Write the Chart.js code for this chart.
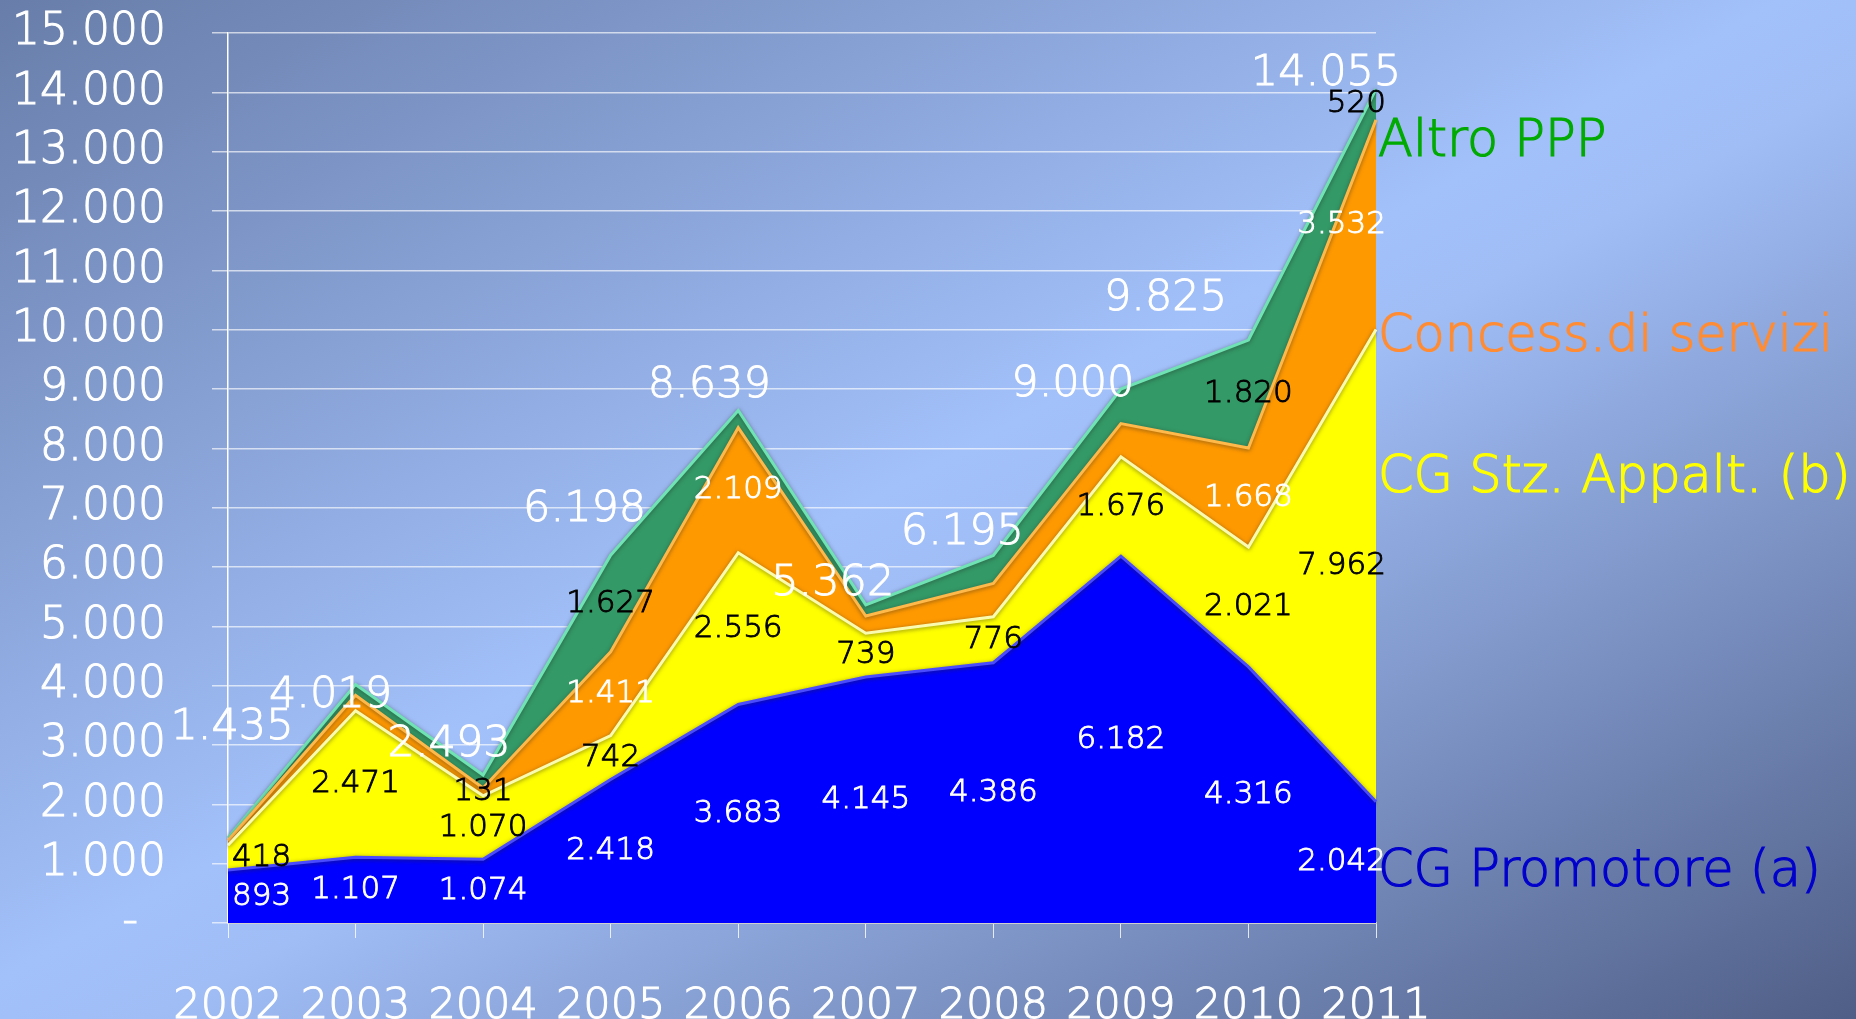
<!DOCTYPE html>
<html>
<head>
<meta charset="utf-8">
<title>PPP 2002-2011</title>
<script src="https://cdn.jsdelivr.net/npm/chart.js@4.4.1/dist/chart.umd.min.js"></script>
<style>
html, body { margin: 0; padding: 0; }
body {
    width: 1856px; height: 1019px; overflow: hidden;
    background: linear-gradient(to bottom right, #687da9 0%, #a2c0fa 48%, #a0bdf6 54%, #4f5e86 100%);
}
#grafico { display: block; }
</style>
</head>
<body>
<canvas id="grafico" width="1856" height="1019"></canvas>
<script>
// dati
const anni = ['2002', '2003', '2004', '2005', '2006', '2007', '2008', '2009', '2010', '2011'];
const cgPromotore = [893, 1107, 1074, 2418, 3683, 4145, 4386, 6182, 4316, 2042];
const cgStzAppalt = [418, 2471, 1070, 742, 2556, 739, 776, 1676, 2021, 7962];
const concessServizi = [80, 260, 131, 1411, 2109, 290, 560, 560, 1668, 3532];
const altroPPP = [44, 181, 218, 1627, 291, 188, 473, 582, 1820, 520];
const totali = [1435, 4019, 2493, 6198, 8639, 5362, 6195, 9000, 9825, 14055];

// spostamenti delle etichette dei totali rispetto al punto (px)
const spostTotali = [[4, -110], [-25, 11], [-34, -30], [-26, -45], [-29, -25], [-33, -21], [-31, -23], [-48, -4], [-83, -41], [-50, -15]];
// quota (valore asse y) dei nomi delle serie a destra
const posNomi = [855, 7495, 9860, 13145];

const FONT = '"DejaVu Sans", Verdana, sans-serif';
const ctx = document.getElementById('grafico').getContext('2d');
let myChart;

function fmt(v) {
    return String(v).replace(/\B(?=(\d{3})+(?!\d))/g, '.');
}

function scrivi(c, testo, x, y, colore) {
    c.fillStyle = colore;
    c.strokeStyle = colore;
    c.fillText(testo, x, y);
    c.strokeText(testo, x, y);
}

const serie = [
    { label: 'CG Promotore (a)', data: cgPromotore, fill: 'origin', backgroundColor: '#0000ff', borderColor: '#4a4aff', coloreNome: '#0000cc', coloreEtichetta: '#ffffff', nascosti: [] },
    { label: 'CG Stz. Appalt. (b)', data: cgStzAppalt, fill: '-1', backgroundColor: '#ffff00', borderColor: '#fbfbb0', coloreNome: '#ffff00', coloreEtichetta: '#000000', nascosti: [] },
    { label: 'Concess.di servizi', data: concessServizi, fill: '-1', backgroundColor: '#ff9900', borderColor: '#ffb84a', coloreNome: '#ff8c33', coloreEtichetta: '#ffffff', nascosti: [0, 1, 5, 6, 7] },
    { label: 'Altro PPP', data: altroPPP, fill: '-1', backgroundColor: '#339966', borderColor: '#6fe3b3', coloreNome: '#00aa00', coloreEtichetta: '#000000', nascosti: [0, 1, 2, 4, 5, 6, 7] }
];

// ombra leggera sui bordi delle aree (effetto rilievo)
const rilievo = {
    id: 'rilievo',
    beforeDatasetDraw(chart) {
        const c = chart.ctx;
        c.save();
        c.shadowColor = 'rgba(40,40,40,0.55)';
        c.shadowBlur = 4;
        c.shadowOffsetY = 1;
    },
    afterDatasetDraw(chart) {
        chart.ctx.restore();
    }
};

const etichette = {
    id: 'etichette',
    afterDatasetsDraw(chart) {
        const c = chart.ctx;
        const xS = chart.scales.x, yS = chart.scales.y;
        const n = anni.length;
        c.save();
        c.textBaseline = 'middle';
        c.lineWidth = 0.9;
        c.font = '200 31px ' + FONT;
        serie.forEach((s, i) => {
            const meta = chart.getDatasetMeta(i);
            const sotto = i === 0 ? null : chart.getDatasetMeta(i - 1);
            s.data.forEach((v, j) => {
                if (s.nascosti.includes(j)) return;
                const p = meta.data[j];
                const y0 = sotto ? sotto.data[j].y : yS.getPixelForValue(0);
                let x = p.x;
                c.textAlign = 'center';
                if (j === 0) { c.textAlign = 'left'; x += 4; }
                if (j === n - 1) { c.textAlign = 'right'; x += 10; }
                scrivi(c, fmt(v), x, (p.y + y0) / 2, v < 300 ? '#000000' : s.coloreEtichetta);
            });
        });
        // totali
        c.font = '200 43px ' + FONT;
        c.textAlign = 'center';
        totali.forEach((t, j) => {
            scrivi(c, fmt(t), xS.getPixelForValue(j) + spostTotali[j][0], yS.getPixelForValue(t) + spostTotali[j][1], '#ffffff');
        });
        // nomi delle serie
        c.font = '200 51px ' + FONT;
        c.lineWidth = 1.2;
        c.textAlign = 'left';
        serie.forEach((s, i) => {
            scrivi(c, s.label, chart.chartArea.right + 2, yS.getPixelForValue(posNomi[i]), s.coloreNome);
        });
        c.restore();
    }
};

myChart = new Chart(ctx, {
    type: 'line',
    data: {
        labels: anni,
        datasets: serie.map(s => ({
            label: s.label,
            data: s.data,
            fill: s.fill,
            backgroundColor: s.backgroundColor,
            borderColor: s.borderColor,
            borderWidth: 3,
            tension: 0,
            pointRadius: 0
        }))
    },
    options: {
        responsive: false,
        animation: false,
        layout: { padding: { top: 33, right: 480, left: 0, bottom: 0 } },
        plugins: {
            legend: { display: false },
            tooltip: { enabled: false }
        },
        scales: {
            x: {
                offset: false,
                ticks: { color: '#ffffff', textStrokeColor: '#ffffff', textStrokeWidth: 1, font: { size: 43, family: FONT, weight: 200 }, padding: 43, maxRotation: 0, autoSkip: false },
                grid: { drawOnChartArea: false, drawTicks: true, tickLength: 15, color: 'rgba(255,255,255,0.8)' },
                border: { color: '#d0d0d0', width: 2 },
                afterFit: s => { s.height = 96; s.paddingLeft = 0; s.paddingRight = 0; }
            },
            y: {
                stacked: true,
                min: 0,
                max: 15000,
                ticks: {
                    stepSize: 1000,
                    color: '#ffffff',
                    textStrokeColor: '#ffffff',
                    textStrokeWidth: 1,
                    padding: 46,
                    font: { size: 44, family: FONT, weight: 200 },
                    callback: v => v === 0 ? '-  ' : fmt(v)
                },
                grid: { color: 'rgba(255,255,255,0.65)', lineWidth: 1.5, tickLength: 16, drawTicks: true },
                border: { display: true, color: '#ffffff', width: 1.5 },
                afterFit: s => { s.width = 228; s.paddingTop = 0; s.paddingBottom = 0; }
            }
        }
    },
    plugins: [rilievo, etichette]
});
</script>
</body>
</html>
